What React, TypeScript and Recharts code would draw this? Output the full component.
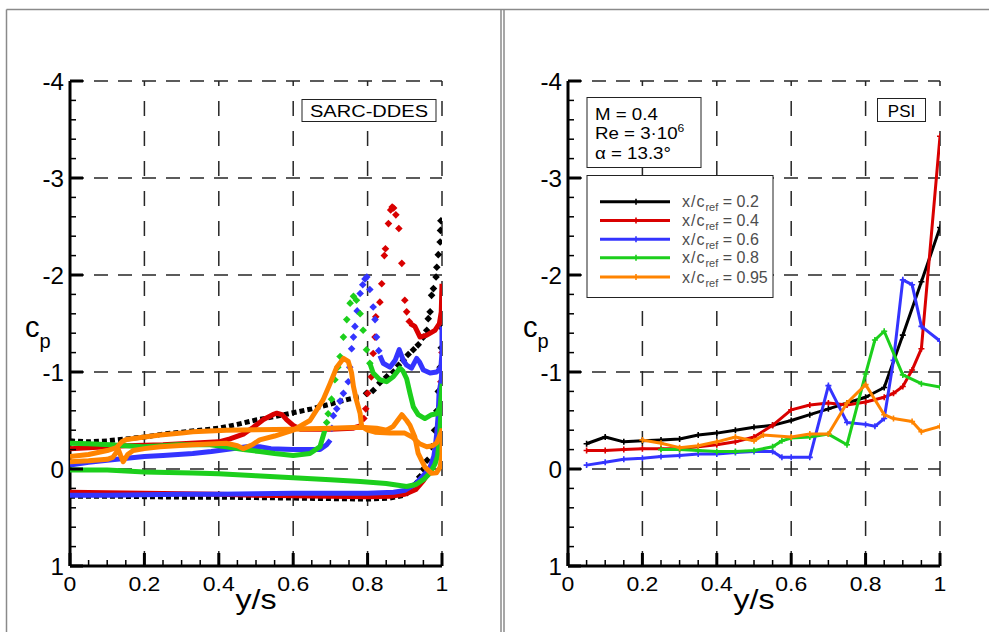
import React from 'react';
import { ComposedChart, Scatter, XAxis, YAxis, ReferenceLine } from 'recharts';

type Pt = [number, number]; // [y/s, cp]

const SANS = '"Liberation Sans", Arial, Helvetica, sans-serif';

// Chordwise stations and their colours
const stationLabels = ['0.2', '0.4', '0.6', '0.8', '0.95'];
const stationColors = ['#000000', '#d90000', '#3434ff', '#1ccf1c', '#ff8400'];

// Axis ticks (major ones carry labels and grid lines)
const xTicks = [0, 0.05, 0.1, 0.15, 0.2, 0.25, 0.3, 0.35, 0.4, 0.45, 0.5, 0.55, 0.6, 0.65, 0.7, 0.75, 0.8, 0.85, 0.9, 0.95, 1];
const xMajor = [0, 0.2, 0.4, 0.6, 0.8, 1];
const yTicks = [-4, -3.8, -3.6, -3.4, -3.2, -3, -2.8, -2.6, -2.4, -2.2, -2, -1.8, -1.6, -1.4, -1.2, -1, -0.8, -0.6, -0.4, -0.2, 0, 0.2, 0.4, 0.6, 0.8, 1];
const yMajor = [-4, -3, -2, -1, 0, 1];
const xGrid = [0.2, 0.4, 0.6, 0.8, 1];
const yGrid = [-4, -3, -2, -1, 0];

// ---------- SARC-DDES (time-averaged surface data) ----------
const sarcBlackUpper: Pt[] = [[0, -0.29], [0.05, -0.28], [0.1, -0.29], [0.15, -0.31], [0.2, -0.33], [0.25, -0.36], [0.3, -0.38], [0.35, -0.4], [0.4, -0.42], [0.45, -0.46], [0.5, -0.505], [0.55, -0.54], [0.6, -0.58], [0.65, -0.62], [0.7, -0.67], [0.75, -0.72], [0.78, -0.745]];
const sarcBlackUpperTip: Pt[] = [[0.797, -0.78], [0.815, -0.81], [0.833, -0.89], [0.851, -0.95], [0.869, -1.0], [0.883, -1.07], [0.896, -1.12], [0.909, -1.18], [0.923, -1.23], [0.936, -1.28], [0.95, -1.36], [0.959, -1.43], [0.963, -1.55], [0.968, -1.62], [0.972, -1.79], [0.977, -1.86], [0.984, -1.98], [0.986, -2.08], [0.99, -2.21], [0.995, -2.34], [0.996, -2.46], [0.997, -2.56]];
const sarcBlackLower: Pt[] = [[0, 0.28], [0.1, 0.28], [0.2, 0.285], [0.3, 0.29], [0.4, 0.29], [0.5, 0.295], [0.6, 0.3], [0.7, 0.305], [0.8, 0.31], [0.86, 0.3], [0.9, 0.27], [0.92, 0.21]];
const sarcBlackLowerTip: Pt[] = [[0.93, 0.15], [0.94, 0.08], [0.95, 0.0], [0.96, -0.09], [0.972, -0.23], [0.98, -0.4], [0.986, -0.6], [0.99, -0.8], [0.995, -1.05], [0.998, -1.25], [1.0, -1.45]];

const sarcRedUpper: Pt[] = [[0, -0.21], [0.05, -0.22], [0.1, -0.23], [0.15, -0.24], [0.2, -0.245], [0.25, -0.25], [0.3, -0.26], [0.35, -0.27], [0.4, -0.28], [0.43, -0.31], [0.466, -0.36], [0.493, -0.43], [0.52, -0.51], [0.545, -0.56], [0.556, -0.575], [0.57, -0.56], [0.582, -0.51], [0.6, -0.45], [0.62, -0.41], [0.7, -0.41], [0.76, -0.42], [0.785, -0.45]];
const sarcRedPeak: Pt[] = [[0.79, -0.52], [0.795, -0.62], [0.8, -0.78], [0.81, -0.95], [0.815, -1.19], [0.82, -1.36], [0.822, -1.57], [0.833, -1.72], [0.838, -1.91], [0.845, -2.2], [0.848, -2.27], [0.856, -2.53], [0.862, -2.67], [0.866, -2.7], [0.87, -2.69], [0.876, -2.62], [0.884, -2.48], [0.892, -2.12], [0.9, -1.74], [0.905, -1.62], [0.912, -1.52]];
const sarcRedUpperTip: Pt[] = [[0.914, -1.5], [0.927, -1.47], [0.941, -1.36], [0.959, -1.38], [0.981, -1.43], [0.993, -1.5], [0.998, -1.62], [1.0, -1.91]];
const sarcRedLower: Pt[] = [[0, 0.24], [0.1, 0.245], [0.2, 0.25], [0.3, 0.255], [0.4, 0.26], [0.5, 0.27], [0.6, 0.275], [0.7, 0.28], [0.8, 0.285], [0.86, 0.28], [0.9, 0.26], [0.93, 0.21], [0.95, 0.12], [0.963, 0.045], [0.975, -0.05], [0.985, -0.18]];
const sarcRedLowerTip: Pt[] = [[0.99, -0.4], [0.994, -0.65], [0.997, -0.9], [0.999, -1.05], [1.0, -1.2]];

const sarcBlueUpper: Pt[] = [[0, -0.04], [0.05, -0.07], [0.1, -0.09], [0.152, -0.11], [0.2, -0.13], [0.25, -0.14], [0.33, -0.16], [0.38, -0.18], [0.42, -0.2], [0.475, -0.23], [0.51, -0.23], [0.54, -0.21], [0.6, -0.2], [0.672, -0.2], [0.69, -0.25], [0.7, -0.3]];
const sarcBluePeak: Pt[] = [[0.704, -0.42], [0.708, -0.55], [0.717, -0.62], [0.726, -0.7], [0.735, -0.78], [0.748, -0.9], [0.752, -1.05], [0.757, -1.24], [0.762, -1.36], [0.766, -1.47], [0.772, -1.63], [0.78, -1.81], [0.787, -1.9], [0.793, -1.96], [0.798, -1.98], [0.806, -1.85], [0.815, -1.67], [0.82, -1.54], [0.824, -1.36], [0.83, -1.22]];
const sarcBlueUpperTip: Pt[] = [[0.833, -1.17], [0.842, -1.09], [0.86, -1.05], [0.874, -1.12], [0.885, -1.23], [0.896, -1.12], [0.905, -1.07], [0.918, -1.04], [0.932, -1.14], [0.94, -1.1], [0.95, -1.02], [0.968, -0.99], [0.986, -1.0], [0.997, -1.05], [1.0, -1.2], [1.0, -1.47]];
const sarcBlueLower: Pt[] = [[0, 0.27], [0.1, 0.27], [0.2, 0.265], [0.3, 0.26], [0.4, 0.26], [0.5, 0.255], [0.6, 0.25], [0.7, 0.25], [0.8, 0.25], [0.87, 0.24], [0.9, 0.22], [0.93, 0.15], [0.955, 0.045], [0.968, -0.02], [0.978, -0.13], [0.982, -0.23], [0.986, -0.37], [0.99, -0.57], [0.992, -0.78], [0.998, -0.92], [1.0, -1.05]];

const sarcGreenUpper: Pt[] = [[0, -0.265], [0.05, -0.26], [0.108, -0.25], [0.15, -0.24], [0.197, -0.23], [0.25, -0.24], [0.287, -0.25], [0.376, -0.25], [0.42, -0.23], [0.466, -0.2], [0.51, -0.18], [0.55, -0.16], [0.6, -0.14], [0.645, -0.16], [0.672, -0.23], [0.685, -0.4]];
const sarcGreenPeak: Pt[] = [[0.69, -0.48], [0.694, -0.57], [0.703, -0.72], [0.712, -0.92], [0.72, -1.05], [0.726, -1.16], [0.735, -1.36], [0.744, -1.54], [0.753, -1.71], [0.762, -1.78], [0.77, -1.74], [0.78, -1.6], [0.788, -1.43], [0.797, -1.23], [0.806, -1.09]];
const sarcGreenUpperTip: Pt[] = [[0.806, -1.09], [0.815, -0.99], [0.833, -0.92], [0.851, -0.9], [0.869, -0.95], [0.887, -1.04], [0.895, -1.01], [0.905, -0.93], [0.914, -0.78], [0.923, -0.64], [0.936, -0.56], [0.954, -0.52], [0.972, -0.56], [0.986, -0.57], [0.995, -0.64], [1.0, -0.85]];
const sarcGreenLower: Pt[] = [[0, 0.01], [0.1, 0.01], [0.2, 0.03], [0.33, 0.04], [0.4, 0.05], [0.5, 0.07], [0.6, 0.09], [0.7, 0.11], [0.78, 0.13], [0.85, 0.15], [0.905, 0.18], [0.93, 0.16], [0.95, 0.11], [0.968, 0.04], [0.981, -0.05], [0.988, -0.13], [0.993, -0.3], [0.996, -0.5], [0.998, -0.64], [1.0, -0.88]];

const sarcOrangeA: Pt[] = [[0, -0.13], [0.05, -0.15], [0.1, -0.19], [0.125, -0.22], [0.139, -0.28], [0.152, -0.305], [0.2, -0.33], [0.242, -0.35], [0.3, -0.37], [0.33, -0.385], [0.42, -0.4], [0.5, -0.405], [0.6, -0.41], [0.7, -0.42], [0.78, -0.43], [0.824, -0.42], [0.851, -0.4], [0.869, -0.44], [0.892, -0.56], [0.905, -0.5], [0.914, -0.45], [0.927, -0.33], [0.936, -0.16], [0.954, -0.02], [0.972, 0.045], [0.985, 0.04], [0.995, -0.02], [1.0, -0.15], [1.0, -0.42]];
const sarcOrangeB: Pt[] = [[0, -0.075], [0.05, -0.085], [0.1, -0.1], [0.115, -0.12], [0.13, -0.2], [0.136, -0.14], [0.143, -0.075], [0.155, -0.15], [0.17, -0.19], [0.2, -0.21], [0.242, -0.23], [0.33, -0.25], [0.42, -0.265], [0.45, -0.24], [0.466, -0.21], [0.49, -0.25], [0.51, -0.3], [0.55, -0.34], [0.6, -0.4], [0.645, -0.5], [0.68, -0.71], [0.699, -0.88], [0.717, -1.05], [0.735, -1.14], [0.748, -1.11], [0.757, -0.99], [0.762, -0.85], [0.77, -0.71], [0.78, -0.57], [0.784, -0.44], [0.8, -0.4], [0.82, -0.38], [0.86, -0.37], [0.9, -0.37], [0.92, -0.33], [0.94, -0.26], [0.959, -0.23], [0.975, -0.24], [0.986, -0.27], [1.0, -0.4]];

// ---------- PSI measurements ----------
const psi02: Pt[] = [[0.05, -0.26], [0.1, -0.33], [0.15, -0.28], [0.2, -0.29], [0.25, -0.3], [0.3, -0.31], [0.35, -0.35], [0.4, -0.37], [0.45, -0.4], [0.5, -0.43], [0.55, -0.45], [0.6, -0.5], [0.65, -0.56], [0.7, -0.62], [0.75, -0.68], [0.8, -0.74], [0.85, -0.84], [0.9, -1.38], [0.95, -1.93], [1.0, -2.49]];
const psi04: Pt[] = [[0.05, -0.19], [0.1, -0.19], [0.15, -0.2], [0.2, -0.21], [0.25, -0.21], [0.3, -0.21], [0.35, -0.23], [0.4, -0.25], [0.45, -0.28], [0.5, -0.33], [0.55, -0.45], [0.6, -0.61], [0.65, -0.66], [0.7, -0.68], [0.75, -0.66], [0.8, -0.69], [0.85, -0.74], [0.875, -0.78], [0.9, -0.85], [0.925, -1.02], [0.95, -1.24], [1.0, -3.43]];
const psi06: Pt[] = [[0.05, -0.04], [0.1, -0.07], [0.15, -0.1], [0.2, -0.11], [0.25, -0.13], [0.3, -0.14], [0.35, -0.155], [0.4, -0.155], [0.45, -0.17], [0.5, -0.18], [0.55, -0.18], [0.575, -0.12], [0.6, -0.12], [0.65, -0.12], [0.7, -0.86], [0.75, -0.48], [0.8, -0.46], [0.825, -0.44], [0.85, -0.52], [0.875, -1.12], [0.9, -1.95], [0.925, -1.9], [0.95, -1.47], [1.0, -1.32]];
const psi08: Pt[] = [[0.25, -0.2], [0.3, -0.2], [0.35, -0.19], [0.4, -0.18], [0.45, -0.18], [0.5, -0.19], [0.55, -0.23], [0.575, -0.29], [0.6, -0.32], [0.65, -0.33], [0.7, -0.36], [0.75, -0.25], [0.8, -0.98], [0.825, -1.33], [0.85, -1.42], [0.9, -0.97], [0.95, -0.88], [1.0, -0.845]];
const psi095: Pt[] = [[0.2, -0.3], [0.25, -0.265], [0.3, -0.22], [0.35, -0.24], [0.4, -0.28], [0.45, -0.33], [0.5, -0.29], [0.525, -0.35], [0.6, -0.33], [0.65, -0.36], [0.7, -0.36], [0.75, -0.68], [0.8, -0.87], [0.85, -0.56], [0.875, -0.52], [0.925, -0.49], [0.95, -0.385], [1.0, -0.44]];

type Kind = 'band' | 'chain' | 'dots';
type Seg = { pts: Pt[]; station: number; kind: Kind };

const sarcSegments: Seg[] = [
  { pts: sarcBlackLower, station: 0, kind: 'chain' },
  { pts: sarcBlackLowerTip, station: 0, kind: 'dots' },
  { pts: sarcBlackUpper, station: 0, kind: 'chain' },
  { pts: sarcBlackUpperTip, station: 0, kind: 'dots' },
  { pts: sarcRedLower, station: 1, kind: 'band' },
  { pts: sarcRedLowerTip, station: 1, kind: 'dots' },
  { pts: sarcRedUpper, station: 1, kind: 'band' },
  { pts: sarcRedPeak, station: 1, kind: 'dots' },
  { pts: sarcRedUpperTip, station: 1, kind: 'band' },
  { pts: sarcBlueLower, station: 2, kind: 'band' },
  { pts: sarcBlueUpper, station: 2, kind: 'band' },
  { pts: sarcBluePeak, station: 2, kind: 'dots' },
  { pts: sarcBlueUpperTip, station: 2, kind: 'band' },
  { pts: sarcGreenLower, station: 3, kind: 'band' },
  { pts: sarcGreenUpper, station: 3, kind: 'band' },
  { pts: sarcGreenPeak, station: 3, kind: 'dots' },
  { pts: sarcGreenUpperTip, station: 3, kind: 'band' },
  { pts: sarcOrangeA, station: 4, kind: 'band' },
  { pts: sarcOrangeB, station: 4, kind: 'band' },
];

const psiSeries: Pt[][] = [psi02, psi04, psi06, psi08, psi095];

const toRows = (pts: Pt[]) => pts.map(([x, cp]) => ({ x, cp }));

const CHART_W = 495;
const CHART_H = 632;
const MARGIN = { top: 81, right: 53, bottom: 16, left: 10 };
const RIGHT_OFFSET = 498;

const isMajor = (list: number[], v: number) => list.some((m) => Math.abs(m - v) < 1e-9);

const XTick = (props: any) => {
  const { x, y, payload } = props;
  const v = payload.value as number;
  const major = isMajor(xMajor, v);
  return (
    <g>
      <line x1={x} y1={y} x2={x} y2={y - (major ? 13 : 6)} stroke="#000" strokeWidth={major ? 3 : 1.5} />
      {major && (
        <g transform={`translate(${x},${y + 25}) scale(1.15,1)`}>
          <text x={0} y={0} textAnchor="middle" fontFamily={SANS} fontSize={20} fill="#000">
            {String(v)}
          </text>
        </g>
      )}
    </g>
  );
};

const YTick = (props: any) => {
  const { x, y, payload } = props;
  const v = payload.value as number;
  const major = isMajor(yMajor, v);
  return (
    <g>
      <line x1={x} y1={y} x2={x + (major ? 13 : 6)} y2={y} stroke="#000" strokeWidth={major ? 3 : 1.5} />
      {major && (
        <g transform={`translate(${x - 6},${y + 9}) scale(1.05,1)`}>
          <text x={0} y={0} textAnchor="end" fontFamily={SANS} fontSize={23} fill="#000">
            {String(v)}
          </text>
        </g>
      )}
    </g>
  );
};

const Diamond = (color: string) => (p: any) => {
  const { cx, cy } = p;
  if (cx == null || cy == null) return <g />;
  return <path d={`M${cx},${cy - 3.8}L${cx + 3.8},${cy}L${cx},${cy + 3.8}L${cx - 3.8},${cy}Z`} fill={color} />;
};

const Plus = (color: string) => (p: any) => {
  const { cx, cy } = p;
  if (cx == null || cy == null) return <g />;
  return <path d={`M${cx - 3},${cy}H${cx + 3}M${cx},${cy - 3}V${cy + 3}`} stroke={color} strokeWidth={1.6} />;
};

const NoMark = () => <g />;

function axes() {
  return [
    <XAxis
      key="xa"
      type="number"
      dataKey="x"
      domain={[0, 1]}
      ticks={xTicks}
      interval={0}
      tick={(p: any) => <XTick {...p} />}
      tickSize={0}
      tickMargin={0}
      tickLine={false}
      axisLine={{ stroke: '#000', strokeWidth: 3 }}
      height={50}
      allowDataOverflow
    />,
    <YAxis
      key="ya"
      type="number"
      dataKey="cp"
      domain={[-4, 1]}
      reversed
      ticks={yTicks}
      interval={0}
      tick={(p: any) => <YTick {...p} />}
      tickSize={0}
      tickMargin={0}
      tickLine={false}
      axisLine={{ stroke: '#000', strokeWidth: 3 }}
      width={60}
      allowDataOverflow
    />,
    ...yGrid.map((v) => (
      <ReferenceLine key={`h${v}`} y={v} stroke="#262626" strokeWidth={1.5} strokeDasharray="14 10" />
    )),
    ...xGrid.map((v) => (
      <ReferenceLine key={`v${v}`} x={v} stroke="#262626" strokeWidth={1.5} strokeDasharray="15 15" />
    )),
  ];
}

function SarcPanel() {
  return (
    <ComposedChart width={CHART_W} height={CHART_H} margin={MARGIN}>
      {axes()}
      {sarcSegments.map((s, i) => {
        const color = stationColors[s.station];
        const line =
          s.kind === 'dots'
            ? false
            : {
                stroke: color,
                strokeWidth: 5,
                strokeLinejoin: 'round' as const,
                strokeDasharray: s.kind === 'chain' ? '5 3' : undefined,
              };
        return (
          <Scatter
            key={`sarc${i}`}
            data={toRows(s.pts)}
            fill={color}
            line={line as any}
            lineType="joint"
            shape={s.kind === 'dots' ? Diamond(color) : NoMark}
            isAnimationActive={false}
          />
        );
      })}
    </ComposedChart>
  );
}

function PsiPanel() {
  return (
    <ComposedChart width={CHART_W} height={CHART_H} margin={MARGIN}>
      {axes()}
      {psiSeries.map((pts, i) => (
        <Scatter
          key={`psi${i}`}
          name={`x/c_ref = ${stationLabels[i]}`}
          data={toRows(pts)}
          fill={stationColors[i]}
          line={{ stroke: stationColors[i], strokeWidth: 3, strokeLinejoin: 'round' } as any}
          lineType="joint"
          shape={Plus(stationColors[i])}
          isAnimationActive={false}
        />
      ))}
    </ComposedChart>
  );
}

function AxisTitles({ dx }: { dx: number }) {
  return (
    <g>
      <text x={25 + dx} y={337} fontFamily={SANS} fontSize={29} fill="#000">
        c
        <tspan fontSize={20} dy={11}>
          p
        </tspan>
      </text>
      <g transform={`translate(${256 + dx},609) scale(1.15,1)`}>
        <text x={0} y={0} textAnchor="middle" fontFamily={SANS} fontSize={28} fill="#000">
          y/s
        </text>
      </g>
    </g>
  );
}

function Overlay() {
  const legendRows = [201.7, 220.5, 239.2, 257.8, 277];
  return (
    <svg width={989} height={632} style={{ position: 'absolute', left: 0, top: 0, pointerEvents: 'none' }}>
      {/* page frame */}
      <line x1={6.5} y1={9.5} x2={989} y2={9.5} stroke="#8a8a8a" strokeWidth={1.5} />
      <line x1={6.5} y1={9.5} x2={6.5} y2={632} stroke="#8a8a8a" strokeWidth={1.5} />
      <line x1={501} y1={9.5} x2={501} y2={632} stroke="#8a8a8a" strokeWidth={1.5} />
      <line x1={504} y1={9.5} x2={504} y2={632} stroke="#8a8a8a" strokeWidth={1.5} />

      <AxisTitles dx={0} />
      <AxisTitles dx={RIGHT_OFFSET} />

      {/* method tags */}
      <rect x={302} y={99.5} width={134} height={22} fill="#fff" stroke="#222" strokeWidth={1} />
      <text x={369} y={116.5} textAnchor="middle" fontFamily={SANS} fontSize={16} fill="#000" textLength={118} lengthAdjust="spacingAndGlyphs">
        SARC-DDES
      </text>
      <rect x={877.5} y={98.5} width={48} height={23} fill="#fff" stroke="#222" strokeWidth={1} />
      <text x={901.5} y={116.5} textAnchor="middle" fontFamily={SANS} fontSize={17} fill="#000">
        PSI
      </text>

      {/* flow conditions */}
      <rect x={587} y={97.5} width={114} height={70} fill="#fff" stroke="#222" strokeWidth={1} />
      <g transform="translate(595,120) scale(1.1,1)">
        <text x={0} y={0} fontFamily={SANS} fontSize={17} fill="#000">
          M = 0.4
        </text>
      </g>
      <g transform="translate(595,139.3) scale(1.1,1)">
        <text x={0} y={0} fontFamily={SANS} fontSize={17} fill="#000">
          Re = 3·10
          <tspan fontSize={11} dy={-7}>
            6
          </tspan>
        </text>
      </g>
      <g transform="translate(595,158.5) scale(1.1,1)">
        <text x={0} y={0} fontFamily={SANS} fontSize={17} fill="#000">
          α = 13.3°
        </text>
      </g>

      {/* legend */}
      <rect x={587} y={175.5} width={186} height={122} fill="#fff" stroke="#222" strokeWidth={1} />
      {stationLabels.map((lab, i) => {
        const cy = legendRows[i];
        const c = stationColors[i];
        return (
          <g key={lab}>
            <line x1={600} y1={cy} x2={670} y2={cy} stroke={c} strokeWidth={3} />
            <path d={`M633,${cy}H639M636,${cy - 3}V${cy + 3}`} stroke={c} strokeWidth={1.6} />
            <text x={682} y={cy + 5.5} fontFamily={SANS} fontSize={16} fill="#4d4d4d">
              <tspan letterSpacing={1}>x/c</tspan>
              <tspan fontSize={11} dy={4}>
                ref
              </tspan>
              <tspan dy={-4}> = {lab}</tspan>
            </text>
          </g>
        );
      })}
    </svg>
  );
}

export default function App() {
  return (
    <div style={{ position: 'absolute', left: 0, top: 0, width: 989, height: 632, background: '#fff', overflow: 'hidden' }}>
      <div style={{ position: 'absolute', left: 0, top: 0 }}>
        <SarcPanel />
      </div>
      <div style={{ position: 'absolute', left: RIGHT_OFFSET, top: 0 }}>
        <PsiPanel />
      </div>
      <Overlay />
    </div>
  );
}
